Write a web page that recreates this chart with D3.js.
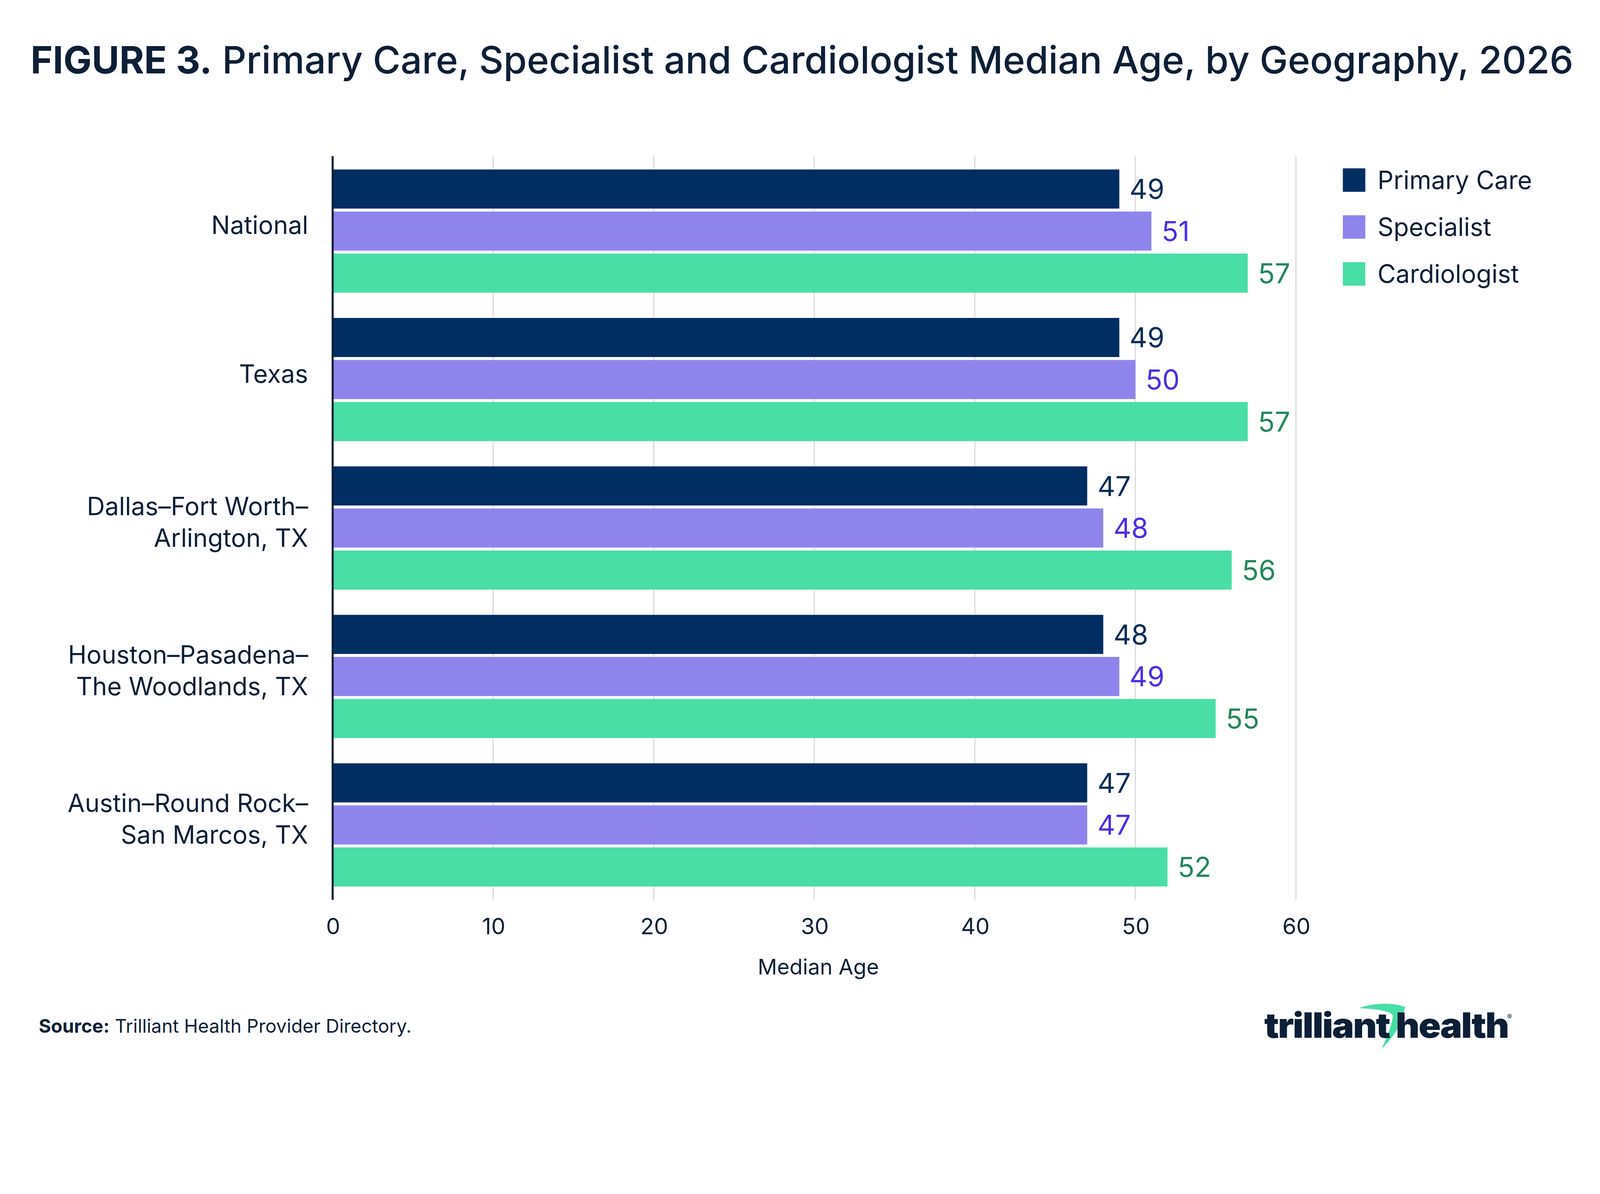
<!DOCTYPE html>
<html>
<head>
<meta charset="utf-8">
<script src="https://cdn.jsdelivr.net/npm/d3@7"></script>
<style>
  html, body { margin: 0; padding: 0; background: #fff; overflow: hidden; }
  svg { display: block; width: 100vw; height: 100vh; }
  text { font-family: Inter, "DejaVu Sans", sans-serif; }
</style>
</head>
<body>
<svg id="chart"></svg>
<script>
// Chart data
const geographies = ["National", "Texas", "Dallas–Fort Worth–Arlington, TX", "Houston–Pasadena–The Woodlands, TX", "Austin–Round Rock–San Marcos, TX"];
const geoLines = [["National"], ["Texas"], ["Dallas–Fort Worth–", "Arlington, TX"], ["Houston–Pasadena–", "The Woodlands, TX"], ["Austin–Round Rock–", "San Marcos, TX"]];
const seriesNames = ["Primary Care", "Specialist", "Cardiologist"];
const primaryCare = [49, 49, 47, 48, 47];
const specialist = [51, 50, 48, 49, 47];
const cardiologist = [57, 57, 56, 55, 52];
const xTicks = [0, 10, 20, 30, 40, 50, 60];

const barColors = ["#012e62", "#8f84ec", "#4adea7"];
const labelColors = ["#0b2c5a", "#4b2fe4", "#23875d"];
const INK = "#0d1f36";

// Canvas is laid out in a 1568-wide frame, the viewBox scales it to the window
const W = 1568, H = 1056.5;
const svg = d3.select("#chart")
    .attr("viewBox", `0 0 ${W} ${H}`)
    .attr("preserveAspectRatio", "xMinYMin meet");

const PLOT = { left: 326, right: 1270, top: 153, bottom: 882 };

const x = d3.scaleLinear().domain([0, 60]).range([PLOT.left, PLOT.right]);
const y = d3.scaleBand().domain(geographies).range([PLOT.top, PLOT.bottom])
    .paddingInner(0.17).paddingOuter(0.09);
const ySub = d3.scaleBand().domain(seriesNames).range([0, y.bandwidth()]).paddingInner(0.07);

const rows = geographies.map((g, i) => ({
    geo: g,
    lines: geoLines[i],
    values: [primaryCare[i], specialist[i], cardiologist[i]]
}));

// Title
const title = svg.append("text")
    .attr("x", 30).attr("y", 72)
    .attr("fill", INK)
    .style("font-size", "37px");
title.append("tspan").attr("font-weight", 700).text("FIGURE 3.");
title.append("tspan").attr("font-weight", 500).text(" Primary Care, Specialist and Cardiologist Median Age, by Geography, 2026");
// fit title to the reference width
const tw = title.node().getComputedTextLength();
title.style("font-size", (37 * 1512 / tw) + "px");

// Gridlines
svg.append("g")
    .selectAll("line")
    .data(xTicks.filter(d => d > 0))
    .join("line")
    .attr("x1", d => x(d)).attr("x2", d => x(d))
    .attr("y1", PLOT.top).attr("y2", PLOT.bottom)
    .attr("stroke", "#dcdcdc")
    .attr("stroke-width", 1.2);

// Bars
const groups = svg.append("g")
    .selectAll("g")
    .data(rows)
    .join("g")
    .attr("transform", d => `translate(0,${y(d.geo)})`);

groups.selectAll("rect")
    .data(d => d.values.map((v, k) => ({ v, k })))
    .join("rect")
    .attr("x", x(0))
    .attr("y", d => ySub(seriesNames[d.k]))
    .attr("width", d => x(d.v) - x(0))
    .attr("height", ySub.bandwidth())
    .attr("fill", d => barColors[d.k]);

groups.selectAll("text.val")
    .data(d => d.values.map((v, k) => ({ v, k })))
    .join("text")
    .attr("class", "val")
    .attr("x", d => x(d.v) + 10)
    .attr("y", d => ySub(seriesNames[d.k]) + ySub.bandwidth() / 2)
    .attr("dy", "0.36em")
    .attr("fill", d => labelColors[d.k])
    .style("font-size", "27px")
    .text(d => d.v);

// Category labels
const catLabels = svg.append("g")
    .selectAll("text")
    .data(rows)
    .join("text")
    .attr("text-anchor", "end")
    .attr("fill", INK)
    .style("font-size", "24.5px")
    .attr("x", 302)
    .attr("y", d => y(d.geo) + y.bandwidth() / 2 - (d.lines.length - 1) * 15.5 + 3)
    .attr("dy", "0.36em");
catLabels.selectAll("tspan")
    .data(d => d.lines)
    .join("tspan")
    .attr("x", 302)
    .attr("dy", (d, i) => i === 0 ? 0 : 31)
    .text(d => d);

// Y axis line
svg.append("line")
    .attr("x1", x(0)).attr("x2", x(0))
    .attr("y1", PLOT.top).attr("y2", PLOT.bottom)
    .attr("stroke", INK)
    .attr("stroke-width", 2);

// X axis
const xAxis = svg.append("g")
    .attr("transform", `translate(0,${PLOT.bottom})`)
    .call(d3.axisBottom(x).tickValues(xTicks).tickSize(0).tickPadding(18));
xAxis.select(".domain").remove();
xAxis.selectAll("text")
    .attr("fill", INK)
    .style("font-size", "22px")
    .style("font-family", "Inter, sans-serif");

svg.append("text")
    .attr("x", (PLOT.left + PLOT.right) / 2 + 4)
    .attr("y", 955)
    .attr("text-anchor", "middle")
    .attr("fill", INK)
    .style("font-size", "21px")
    .text("Median Age");

// Legend
const legend = svg.append("g")
    .selectAll("g")
    .data(seriesNames)
    .join("g")
    .attr("transform", (d, i) => `translate(1316,${165 + i * 46})`);
legend.append("rect")
    .attr("width", 22).attr("height", 23)
    .attr("fill", (d, i) => barColors[i]);
legend.append("text")
    .attr("x", 34).attr("y", 11.5)
    .attr("dy", "0.36em")
    .attr("fill", INK)
    .style("font-size", "24.5px")
    .text(d => d);

// Source note
const src = svg.append("text")
    .attr("x", 38).attr("y", 1012)
    .attr("fill", INK)
    .style("font-size", "18.3px");
src.append("tspan").attr("font-weight", 700).text("Source:");
src.append("tspan").text(" Trilliant Health Provider Directory.");

// Logo
const logo = svg.append("g");
logo.append("path")
    .attr("d", "M1332,988 C1345,983 1365,982 1377,987 L1375,995 C1373,1005 1366,1016 1354,1028 C1360,1015 1364,1004 1365,996 C1364,991 1350,989 1332,988 Z")
    .attr("fill", "#4adea7");
logo.append("text")
    .attr("x", 1239).attr("y", 1017)
    .attr("fill", "#0c1f36")
    .attr("font-weight", 900)
    .attr("textLength", 239)
    .attr("lengthAdjust", "spacingAndGlyphs")
    .style("font-size", "34px")
    .style("letter-spacing", "-1px")
    .text("trilliant health");
logo.append("text")
    .attr("x", 1477).attr("y", 999)
    .attr("fill", "#0c1f36")
    .style("font-size", "7px")
    .text("®");
</script>
</body>
</html>
